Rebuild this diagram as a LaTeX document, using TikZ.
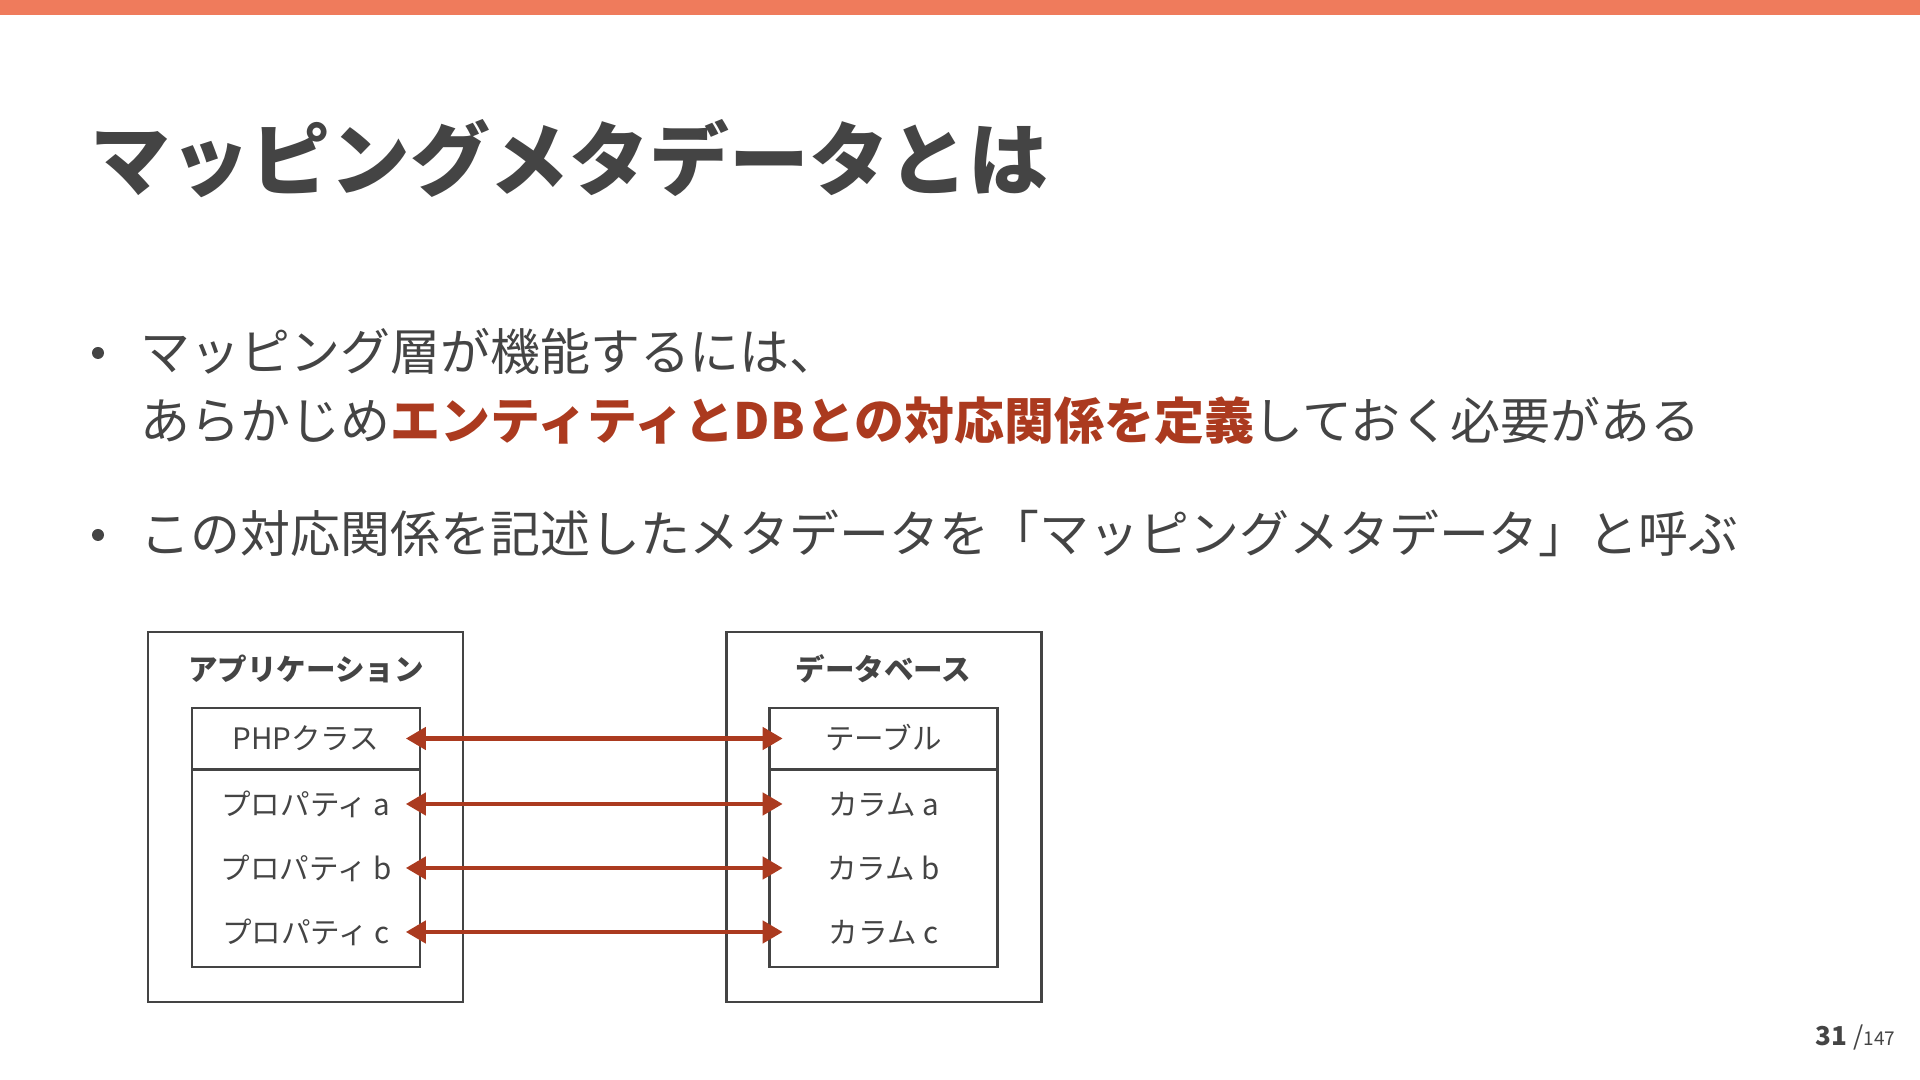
\documentclass[tikz,border=0pt]{standalone}
\usepackage{fontspec}
\setmainfont{Noto Sans CJK JP}
\usetikzlibrary{arrows.meta,positioning}
\definecolor{slidegray}{HTML}{444444}
\definecolor{barorange}{HTML}{EF7B5C}
\definecolor{accentred}{HTML}{AB3A1F}

\begin{document}
\begin{tikzpicture}[x=0.01cm,y=-0.01cm,
  every node/.style={text=slidegray,inner sep=0pt},
  sidebox/.style={draw=slidegray,line width=0.7pt,minimum width=3.15cm,minimum height=3.70cm},
  tablebox/.style={draw=slidegray,line width=0.7pt,minimum width=2.28cm,minimum height=2.59cm},
  headtext/.style={font=\fontsize{8.4}{10}\selectfont\bfseries,text height=7.4pt,text depth=1pt},
  rowtext/.style={font=\fontsize{8.4}{10}\selectfont,text height=7.4pt,text depth=1pt,minimum width=2.28cm},
  bodytext/.style={anchor=west,font=\fontsize{14.2}{17}\selectfont,text height=12.5pt,text depth=1.7pt},
  dot/.style={circle,fill=slidegray,minimum size=0.12cm},
  maplink/.style={accentred,line width=1.4pt,{Triangle[length=5.7pt,width=6.2pt]}-{Triangle[length=5.7pt,width=6.2pt]},
    shorten <=-0.15cm,shorten >=-0.14cm}]
  \useasboundingbox (0,0) rectangle (1920,1080);
  \fill[barorange] (0,0) rectangle (1920,15);

  % title and bullets
  \node[anchor=west,font=\fontsize{22.7}{27}\selectfont\bfseries,text height=20pt,text depth=2.7pt] (title) at (90,159) {マッピングメタデータとは};
  \node[dot] (b1) at (98,353) {};
  \node[bodytext] (l1) at (140,352) {マッピング層が機能するには、};
  \node[bodytext] (l2) at (140,421) {あらかじめ{\bfseries\color{accentred}エンティティとDBとの対応関係を定義}しておく必要がある};
  \node[dot] (b2) at (98,535) {};
  \node[bodytext] (l3) at (140,534) {この対応関係を記述したメタデータを「マッピングメタデータ」と呼ぶ};

  % application side
  \node[sidebox] (app) at (305.5,817) {};
  \node[headtext] (apphead) at (306,669) {アプリケーション};
  \node[tablebox] (cls) at (306,837.5) {};
  \node[rowtext,minimum height=0.61cm] (pcls) at (306,738.5) {PHPクラス};
  \draw[slidegray,line width=0.7pt] (pcls.south west) -- (pcls.south east);

  % database side
  \node[sidebox] (db) at (884,817) {};
  \node[headtext] (dbhead) at (883.5,669) {データベース};
  \node[tablebox] (tbl) at (883.5,837.5) {};
  \node[rowtext,minimum height=0.61cm] (ptbl) at (883.5,738.5) {テーブル};
  \draw[slidegray,line width=0.7pt] (ptbl.south west) -- (ptbl.south east);

  \draw[maplink] (pcls) -- (ptbl);
  \foreach \k/\ypos in {a/804,b/868,c/932}{
    \node[rowtext] (p\k) at (306,\ypos) {プロパティ \k};
    \node[rowtext] (c\k) at (883.5,\ypos) {カラム \k};
    \draw[maplink] (p\k) -- (c\k);
  }

  % page number
  \node[anchor=base east] (pagenum) at (1896,1046)
    {{\fontsize{7.4}{9}\selectfont\bfseries 31}\,{\fontsize{7.4}{9}\selectfont /}{\fontsize{5.4}{7}\selectfont 147}};
\end{tikzpicture}
\end{document}
